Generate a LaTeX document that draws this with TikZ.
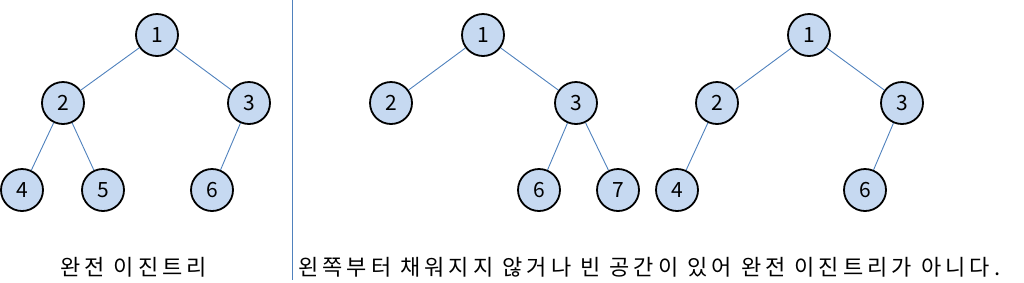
\documentclass[tikz,border=0pt]{standalone}
\usepackage{fontspec}
\newfontfamily\kr{Noto Sans CJK KR}
\newfontfamily\krsp[LetterSpace=18.5]{Noto Sans CJK KR}
\begin{document}
\begin{tikzpicture}[x=1pt,y=-1pt,
  tn/.style={circle,draw=black,line width=1.8pt,fill=nodefill,minimum size=42pt,inner sep=0pt,font=\kr\fontsize{21}{21}\selectfont},
  ed/.style={draw=edgeblue,line width=0.9pt},
  lbl/.style={font=\krsp\fontsize{22}{22}\selectfont,inner sep=0pt}]
\definecolor{nodefill}{HTML}{C6D9F1}
\definecolor{edgeblue}{HTML}{4F81BD}
\useasboundingbox (0,0) rectangle (1024,282);
% left tree
\node[tn] (a1) at (157,35) {1};
\node[tn] (a2) at (63,103) {2};
\node[tn] (a3) at (249,103) {3};
\node[tn] (a4) at (22,190) {4};
\node[tn] (a5) at (103,190) {5};
\node[tn] (a6) at (212,190) {6};
\draw[ed] (a1)--(a2) (a1)--(a3) (a2)--(a4) (a2)--(a5) (a3)--(a6);
% divider
\coordinate (d1) at (292,0);
\coordinate (d2) at (292,280);
\draw[edgeblue,line width=1pt] (d1)--(d2);
% middle tree
\node[tn] (b1) at (483,35) {1};
\node[tn] (b2) at (391,103) {2};
\node[tn] (b3) at (576,103) {3};
\node[tn] (b6) at (539,190) {6};
\node[tn] (b7) at (618,190) {7};
\draw[ed] (b1)--(b2) (b1)--(b3) (b3)--(b6) (b3)--(b7);
% right tree
\node[tn] (c1) at (809,35) {1};
\node[tn] (c2) at (717,103) {2};
\node[tn] (c3) at (902,103) {3};
\node[tn] (c4) at (677,190) {4};
\node[tn] (c6) at (865,190) {6};
\draw[ed] (c1)--(c2) (c1)--(c3) (c2)--(c4) (c3)--(c6);
% labels
\node[lbl,anchor=west] (t1) at (60,267) {완전 이진트리};
\node[lbl,anchor=west] (t2) at (298,267) {왼쪽부터 채워지지 않거나 빈 공간이 있어 완전 이진트리가 아니다.};
\end{tikzpicture}
\end{document}
